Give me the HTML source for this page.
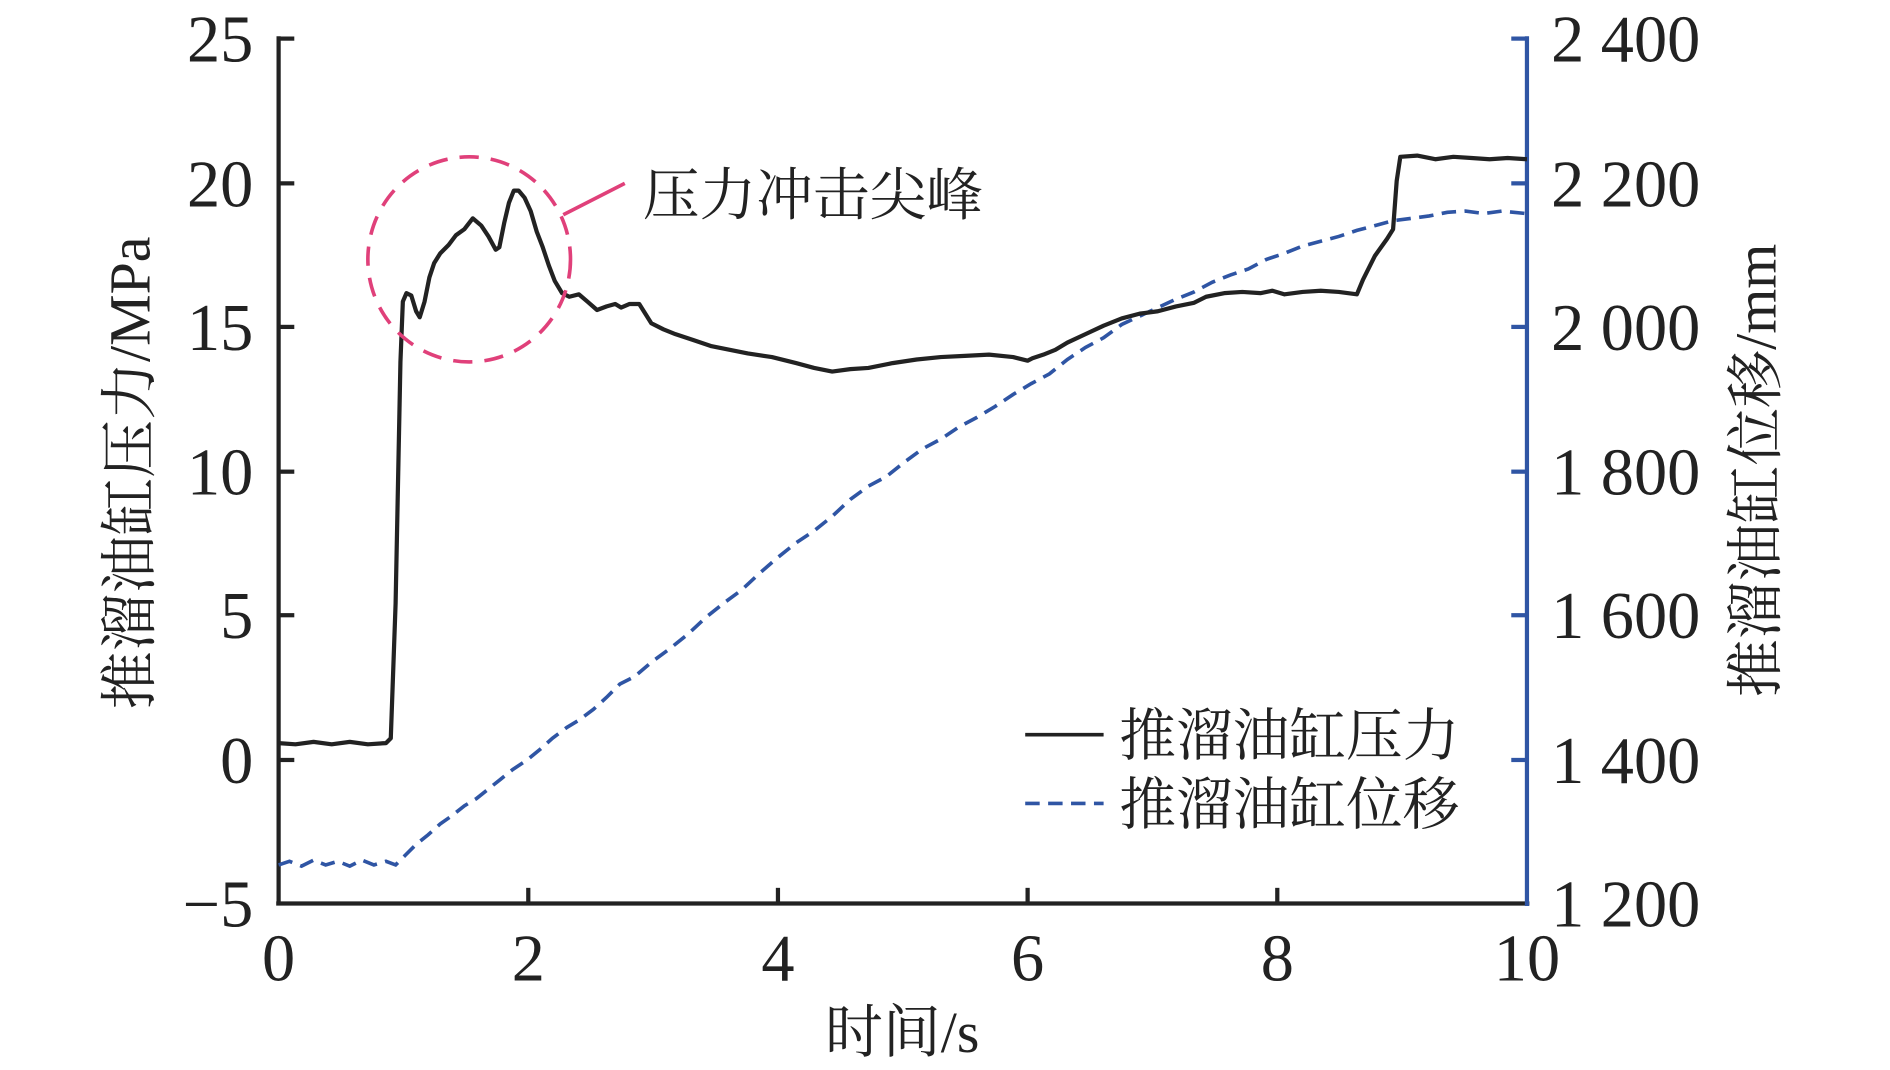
<!DOCTYPE html>
<html><head><meta charset="utf-8"><style>
html,body{margin:0;padding:0;background:#fff;}
svg{display:block;}
text{font-family:"Liberation Serif","Noto Serif CJK SC","Noto Sans CJK SC",serif;fill:#222;}
</style></head><body>
<svg width="1890" height="1070" viewBox="0 0 1567 887" preserveAspectRatio="none" xmlns="http://www.w3.org/2000/svg">
<rect width="1567" height="887" fill="#fff"/>
<line x1="231" y1="30" x2="231" y2="750" stroke="#222" stroke-width="3.5"/>
<line x1="229" y1="749" x2="1268" y2="749" stroke="#222" stroke-width="3.5"/>
<line x1="1266" y1="30" x2="1266" y2="751" stroke="#2f55a4" stroke-width="3.5"/>
<g stroke="#222" stroke-width="3.5">
<line x1="231" y1="32" x2="244" y2="32"/><line x1="231" y1="152" x2="244" y2="152"/>
<line x1="231" y1="271" x2="244" y2="271"/><line x1="231" y1="391" x2="244" y2="391"/>
<line x1="231" y1="510" x2="244" y2="510"/><line x1="231" y1="630" x2="244" y2="630"/>
<line x1="438" y1="749" x2="438" y2="736"/><line x1="645" y1="749" x2="645" y2="736"/>
<line x1="852" y1="749" x2="852" y2="736"/><line x1="1059" y1="749" x2="1059" y2="736"/>
</g>
<g stroke="#2f55a4" stroke-width="3.5">
<line x1="1253" y1="32" x2="1266" y2="32"/><line x1="1253" y1="152" x2="1266" y2="152"/>
<line x1="1253" y1="271" x2="1266" y2="271"/><line x1="1253" y1="391" x2="1266" y2="391"/>
<line x1="1253" y1="510" x2="1266" y2="510"/><line x1="1253" y1="630" x2="1266" y2="630"/>
</g>
<g font-size="55" text-anchor="end">
<text x="210" y="51">25</text><text x="210" y="171">20</text><text x="210" y="290">15</text>
<text x="210" y="410">10</text><text x="210" y="529">5</text><text x="210" y="649">0</text>
<text x="210" y="768">−5</text>
</g>
<g font-size="55" text-anchor="start">
<text x="1286" y="51">2 400</text><text x="1286" y="171">2 200</text><text x="1286" y="290">2 000</text>
<text x="1286" y="410">1 800</text><text x="1286" y="529">1 600</text><text x="1286" y="649">1 400</text>
<text x="1286" y="768">1 200</text>
</g>
<g font-size="55" text-anchor="middle">
<text x="231" y="813">0</text><text x="438" y="813">2</text><text x="645" y="813">4</text>
<text x="852" y="813">6</text><text x="1059" y="813">8</text><text x="1266" y="813">10</text>
<text x="748" y="872" font-size="48">时间/s</text>
</g>
<text transform="translate(124,392) rotate(-90)" font-size="48" text-anchor="middle">推溜油缸压力/MPa</text>
<text transform="translate(1472,390) rotate(-90)" font-size="48" text-anchor="middle">推溜油缸位移/mm</text>
<polyline fill="none" stroke="#2f55a4" stroke-width="3" stroke-dasharray="12,7" points="231,717 240,714 250,718 260,713 270,717 280,714 290,718 300,713 310,717 320,714 328,717 336,709 345,700 355,692 365,683 375,676 385,668 395,662 405,654 415,646 425,638 437,630 448,621 458,612 470,603 480,597 492,588 503,578 514,567 526,561 540,549 555,538 570,526 585,512 600,500 615,489 630,475 645,462 660,450 675,440 690,428 705,414 720,403 735,395 750,383 765,372 780,364 795,354 810,346 825,337 840,327 855,318 870,310 885,298 900,288 915,280 930,269 945,262 960,255 975,248 990,242 1005,234 1020,228 1035,223 1050,215 1065,210 1080,204 1095,200 1110,196 1125,191 1140,187 1155,183 1170,181 1185,179 1200,176 1215,175 1230,177 1245,175 1265,177"/>
<polyline fill="none" stroke="#222" stroke-width="3.5" stroke-linejoin="round" points="231,616 245,617 260,615 275,617 290,615 305,617 320,616 324,612 328,500 332,300 334,250 337,243 341,245 345,258 348,263 352,250 356,230 360,218 365,210 372,203 378,195 385,190 392,181 399,187 405,196 411,207 414,205 418,185 422,168 426,158 430,158 435,164 440,175 445,192 450,205 455,220 460,233 466,243 472,246 480,244 487,250 495,257 503,254 510,252 515,255 522,252 530,252 535,260 540,268 550,273 560,277 575,282 590,287 605,290 620,293 640,296 660,301 675,305 690,308 705,306 720,305 740,301 760,298 780,296 800,295 820,294 840,296 852,299 856,297 865,294 875,290 885,284 900,277 915,270 930,264 945,260 960,258 975,254 990,251 1000,246 1015,243 1030,242 1045,243 1055,241 1065,244 1080,242 1095,241 1110,242 1125,244 1130,232 1140,212 1150,198 1155,190 1158,150 1161,130 1175,129 1190,132 1205,130 1220,131 1235,132 1250,131 1266,132"/>
<ellipse cx="389" cy="215" rx="84" ry="85" fill="none" stroke="#e0407a" stroke-width="3" stroke-dasharray="16,10"/>
<line x1="467" y1="178" x2="518" y2="152" stroke="#e0407a" stroke-width="3"/>
<text x="533" y="178" font-size="47">压力冲击尖峰</text>
<line x1="850" y1="609" x2="915" y2="609" stroke="#222" stroke-width="3"/>
<text x="928" y="626" font-size="47">推溜油缸压力</text>
<line x1="850" y1="666" x2="915" y2="666" stroke="#2f55a4" stroke-width="3" stroke-dasharray="12,7"/>
<text x="928" y="683" font-size="47">推溜油缸位移</text>
</svg>
</body></html>
